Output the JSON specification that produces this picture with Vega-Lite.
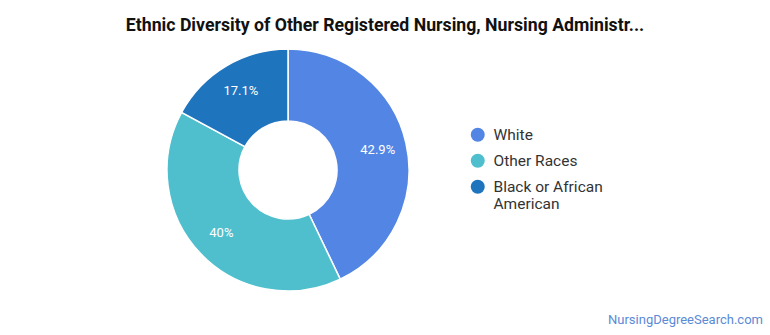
{
  "$schema": "https://vega.github.io/schema/vega-lite/v6.json",
  "width": 576,
  "height": 244,
  "autosize": {"type": "none"},
  "padding": {"left": 0, "top": 48, "right": 194, "bottom": 43},
  "background": "white",
  "config": {"view": {"stroke": null}, "font": "Roboto"},
  "title": {
    "text": "Ethnic Diversity of Other Registered Nursing, Nursing Administr...",
    "fontSize": 17.7,
    "fontWeight": "bold",
    "color": "#111111",
    "anchor": "middle",
    "dx": 97,
    "offset": 11
  },
  "data": {
    "values": [
      {"race": "White", "share": 42.9, "rank": 1},
      {"race": "Other Races", "share": 40, "rank": 2},
      {"race": "Black or African American", "share": 17.1, "rank": 3}
    ]
  },
  "transform": [
    {"calculate": "format(datum.share, '.3~r') + '%'", "as": "label"}
  ],
  "layer": [
    {
      "mark": {"type": "arc", "innerRadius": 49, "outerRadius": 121, "stroke": "white", "strokeWidth": 1.5},
      "encoding": {
        "theta": {"field": "share", "type": "quantitative", "stack": true},
        "order": {"field": "rank", "type": "quantitative"},
        "color": {
          "field": "race",
          "type": "nominal",
          "scale": {
            "domain": ["White", "Other Races", "Black or African American"],
            "range": ["#5386E4", "#4FBFCE", "#1F74BE"]
          },
          "legend": {
            "title": null,
            "orient": "none",
            "legendX": 470,
            "legendY": 79,
            "symbolType": "circle",
            "symbolSize": 196,
            "symbolStrokeWidth": 0,
            "labelFontSize": 15.5,
            "labelColor": "#333333",
            "labelOffset": 8,
            "rowPadding": 9,
            "labelLimit": 300,
            "encode": {"labels": {"enter": {"lineHeight": {"value": 22}}}},
            "labelExpr": "datum.label == 'Black or African American' ? ['Black or African', 'American'] : datum.label"
          }
        }
      }
    },
    {
      "mark": {"type": "text", "radius": 92, "fill": "white", "fontSize": 13},
      "encoding": {
        "theta": {"field": "share", "type": "quantitative", "stack": true},
        "order": {"field": "rank", "type": "quantitative"},
        "text": {"field": "label", "type": "nominal"}
      }
    },
    {
      "data": {"values": [{"site": "NursingDegreeSearch.com"}]},
      "mark": {
        "type": "text",
        "x": {"expr": "width + 187"},
        "y": {"expr": "height + 32"},
        "align": "right",
        "baseline": "alphabetic",
        "fontSize": 13,
        "fill": "#5B8AD6"
      },
      "encoding": {"text": {"field": "site", "type": "nominal"}}
    }
  ]
}
